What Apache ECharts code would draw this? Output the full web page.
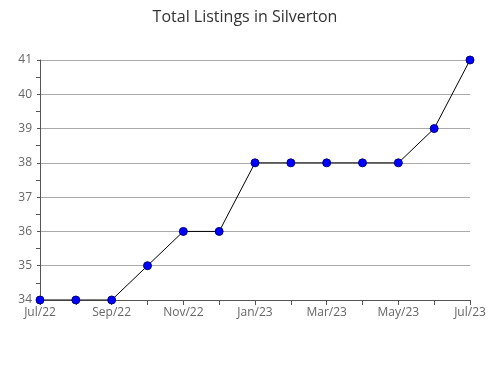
<!DOCTYPE html>
<html><head><meta charset="utf-8">
<script src="https://cdn.jsdelivr.net/npm/echarts@6/dist/echarts.min.js"></script>
<style>html,body{margin:0;padding:0;background:#fff}#c{width:490px;height:380px}</style>
</head><body><div id="c"></div>
<script>
const months = ['Jul/22','Aug/22','Sep/22','Oct/22','Nov/22','Dec/22','Jan/23','Feb/23','Mar/23','Apr/23','May/23','Jun/23','Jul/23'];
const listings = [34,34,34,35,36,36,38,38,38,38,38,39,41];
const chart = echarts.init(document.getElementById('c'));
const font = '"Open Sans", "Noto Sans", sans-serif';
chart.setOption({
  animation: false,
  title: {text: 'Total Listings in Silverton', left: 'center', top: 4,
    textStyle: {fontFamily: font, fontSize: 16, fontWeight: 'normal', color: '#333'}},
  grid: {left: 40, right: 20, top: 60, bottom: 80},
  xAxis: {type: 'category', data: months, boundaryGap: false,
    axisLine: {lineStyle: {color: '#555'}},
    axisTick: {interval: 0, length: 5, lineStyle: {color: '#555'}},
    axisLabel: {interval: 1, fontFamily: font, fontSize: 12, color: '#666', margin: 7}},
  yAxis: {type: 'value', min: 34, max: 41, interval: 1,
    axisLine: {show: true, lineStyle: {color: '#555'}},
    axisTick: {show: true, length: 3, lineStyle: {color: '#555'}},
    minorTick: {show: true, splitNumber: 2, length: 4, lineStyle: {color: '#555'}},
    splitLine: {lineStyle: {color: '#aaa'}},
    axisLabel: {fontFamily: font, fontSize: 12, color: '#666', margin: 8}},
  series: [{type: 'line', data: listings, symbol: 'circle', symbolSize: 8,
    lineStyle: {color: '#000', width: 1},
    itemStyle: {color: '#0000ff', borderColor: '#000080', borderWidth: 1}}]
});
</script></body></html>
